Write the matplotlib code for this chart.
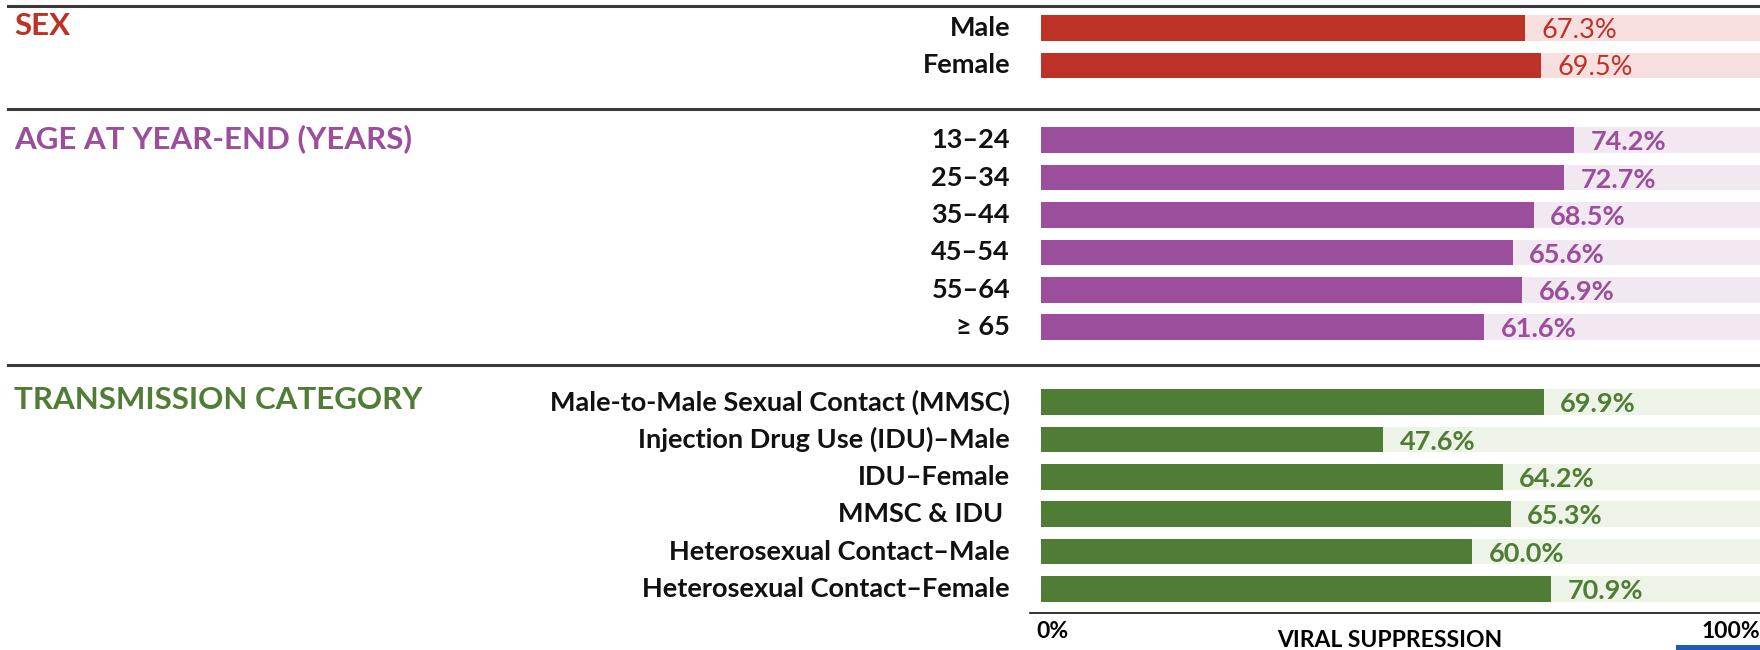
import matplotlib.pyplot as plt
from matplotlib.lines import Line2D
from matplotlib.patches import Rectangle

plt.rcParams['font.family'] = ['Lato', 'DejaVu Sans']

# viral suppression (%) by group
sex_labels = ['Male', 'Female']
sex_values = [67.3, 69.5]

age_labels = ['13\u201324', '25\u201334', '35\u201344', '45\u201354', '55\u201364', '\u2265 65']
age_values = [74.2, 72.7, 68.5, 65.6, 66.9, 61.6]

trans_labels = ['Male-to-Male Sexual Contact (MMSC)',
                'Injection Drug Use (IDU)\u2013Male',
                'IDU\u2013Female',
                'MMSC & IDU ',
                'Heterosexual Contact\u2013Male',
                'Heterosexual Contact\u2013Female']
trans_values = [69.9, 47.6, 64.2, 65.3, 60.0, 70.9]

sections = [
    ('SEX', sex_labels, sex_values, '#BE3126', '#F7DFE0', 'normal'),
    ('AGE AT YEAR-END (YEARS)', age_labels, age_values, '#9A4E9B', '#F2E8F2', 'bold'),
    ('TRANSMISSION CATEGORY', trans_labels, trans_values, '#507D36', '#EDF4E7', 'bold'),
]

W, H = 1760, 650
fig = plt.figure(figsize=(W / 100, H / 100), dpi=100)

# bar axes: 0..100% spans from x=1041px to the right edge
x0 = 1041
row_h = 37.4
top = 28
ax = fig.add_axes([x0 / W, 0, 1 - x0 / W, 1])
ax.set_xlim(0, 100)
ax.set_ylim((H - top) / row_h, -top / row_h)
ax.axis('off')

def fy(py):
    return 1 - py / H

def fx(px):
    return px / W

row = 0
header_rows = []
for title, labels, values, color, light, weight in sections:
    header_rows.append((row, title, color))
    for lab, val in zip(labels, values):
        ax.barh(row, 100, height=0.68, color=light, edgecolor='none')
        ax.barh(row, val, height=0.68, color=color, edgecolor='none')
        ax.text(val + 2.3, row + 0.06, f'{val:.1f}%', color=color, fontsize=19.5,
                fontweight=weight, ha='left', va='center')
        ax.text(-4.3, row, lab, fontsize=19.5, fontweight='bold', color='#111111',
                ha='right', va='center', clip_on=False)
        row += 1
    row += 1

# section headers
for r, title, color in header_rows:
    py = top + r * row_h - 2
    fig.text(fx(14), fy(py), title, fontsize=22.5, fontweight='bold', color=color,
             ha='left', va='center')

# separators between sections
for py in [6, 109, 365]:
    fig.add_artist(Line2D([fx(8), 1], [fy(py), fy(py)], color='#3a3a3a', lw=2.2))

# bottom axis line and labels
fig.add_artist(Line2D([fx(1030), 1], [fy(613), fy(613)], color='#111111', lw=1.2))
fig.text(fx(1036), fy(632), '0%', fontsize=16.5, fontweight='bold', ha='left', va='center')
fig.text(1.0, fy(632), '100%', fontsize=16.5, fontweight='bold', ha='right', va='center')
fig.text(fx(1390), fy(630), 'VIRAL SUPPRESSION', fontsize=16.5, fontweight='bold',
         ha='center', va='top')

# corner logo strip
fig.add_artist(Rectangle((fx(1676), 0), 1 - fx(1676), 5 / H, transform=fig.transFigure,
                         color='#1F5CB0', lw=0))

fig.savefig('out.png', dpi=100)
